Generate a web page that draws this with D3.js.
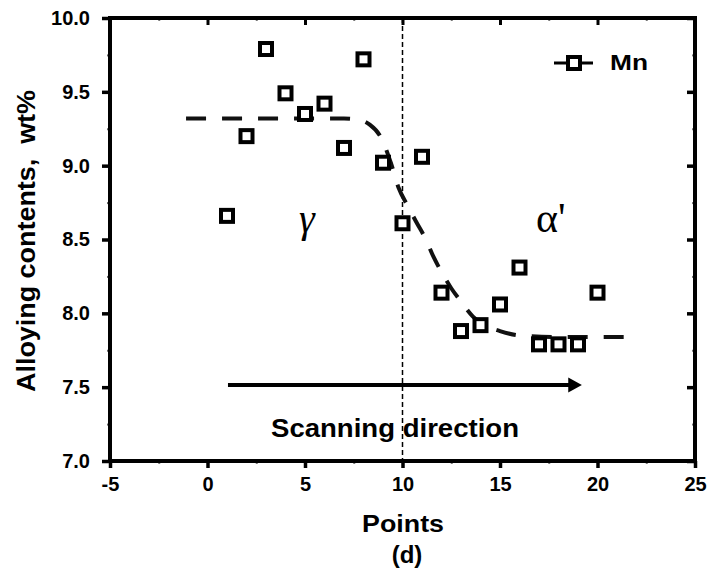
<!DOCTYPE html>
<html>
<head>
<meta charset="utf-8">
<script src="https://cdn.jsdelivr.net/npm/d3@7"></script>
<style>
  body { margin: 0; background: #fff; }
  svg { display: block; font-family: "Liberation Sans", Arial, sans-serif; }
</style>
</head>
<body>
<div id="chart"></div>
<script>
// measured points along the scan
const points = [1, 2, 3, 4, 5, 6, 7, 8, 9, 10, 11, 12, 13, 14, 15, 16, 17, 18, 19, 20];
const mn = [8.66, 9.20, 9.79, 9.49, 9.35, 9.42, 9.12, 9.72, 9.02, 8.61,
            9.06, 8.14, 7.88, 7.92, 8.06, 8.31, 7.79, 7.79, 7.79, 8.14];

// dashed guide curve
const fitX = [-1.1, 7.0, 7.8, 8.3, 8.9, 9.4, 9.8, 10.3, 10.7, 11.2, 11.6, 12.0, 12.5, 13.0, 13.6, 14.2, 15.0, 16.0, 18.0, 21.6];
const fitY = [9.32, 9.32, 9.31, 9.28, 9.19, 9.02, 8.85, 8.72, 8.62, 8.50, 8.38, 8.28, 8.17, 8.08, 7.98, 7.92, 7.88, 7.85, 7.84, 7.84];

const xTicks = [-5, 0, 5, 10, 15, 20, 25];
const yTicks = [7.0, 7.5, 8.0, 8.5, 9.0, 9.5, 10.0];

const width = 708, height = 571;
const margin = { top: 18, right: 13, bottom: 110, left: 110 };

const svg = d3.select("#chart").append("svg")
    .attr("width", width)
    .attr("height", height);

const x = d3.scaleLinear().domain([-5, 25]).range([margin.left, width - margin.right]);
const y = d3.scaleLinear().domain([7, 10]).range([height - margin.bottom, margin.top]);

const x0 = x.range()[0], x1 = x.range()[1];
const yB = y.range()[0], yT = y.range()[1];

// ticks: major + minor, on all four sides
const xMinor = d3.range(-5, 25.01, 2.5).filter(v => v % 5 !== 0);
const yMinor = d3.range(7, 10.01, 0.25).filter(v => Math.abs(v * 2 - Math.round(v * 2)) > 0.01);

svg.append("g")
    .attr("transform", `translate(0,${yB})`)
    .call(d3.axisBottom(x).tickValues(xTicks).tickSize(7).tickPadding(9).tickFormat(d => String(d)))
    .call(g => g.select(".domain").remove())
    .call(g => g.selectAll("line").attr("stroke-width", 3.5))
    .call(g => g.selectAll("text").attr("font-size", 20).attr("font-weight", "bold").attr("fill", "#000"));

svg.append("g")
    .attr("transform", `translate(0,${yB})`)
    .call(d3.axisBottom(x).tickValues(xMinor).tickSize(3).tickFormat(""))
    .call(g => g.select(".domain").remove())
    .call(g => g.selectAll("line").attr("stroke-width", 2).attr("stroke", "#777"));

svg.append("g")
    .attr("transform", `translate(0,${yT})`)
    .call(d3.axisBottom(x).tickValues(xTicks).tickSize(7).tickFormat(""))
    .call(g => g.select(".domain").remove())
    .call(g => g.selectAll("line").attr("stroke-width", 3));

svg.append("g")
    .attr("transform", `translate(0,${yT})`)
    .call(d3.axisBottom(x).tickValues(xMinor).tickSize(3).tickFormat(""))
    .call(g => g.select(".domain").remove())
    .call(g => g.selectAll("line").attr("stroke-width", 2).attr("stroke", "#777"));

svg.append("g")
    .attr("transform", `translate(${x0},0)`)
    .call(d3.axisLeft(y).tickValues(yTicks).tickSize(8).tickPadding(12).tickFormat(d => d.toFixed(1)))
    .call(g => g.select(".domain").remove())
    .call(g => g.selectAll("line").attr("stroke-width", 3.5))
    .call(g => g.selectAll("text").attr("font-size", 20).attr("font-weight", "bold").attr("fill", "#000"));

svg.append("g")
    .attr("transform", `translate(${x0},0)`)
    .call(d3.axisLeft(y).tickValues(yMinor).tickSize(3).tickFormat(""))
    .call(g => g.select(".domain").remove())
    .call(g => g.selectAll("line").attr("stroke-width", 2).attr("stroke", "#666"));

svg.append("g")
    .attr("transform", `translate(${x1},0)`)
    .call(d3.axisLeft(y).tickValues(yTicks).tickSize(8).tickFormat(""))
    .call(g => g.select(".domain").remove())
    .call(g => g.selectAll("line").attr("stroke-width", 3.5));

svg.append("g")
    .attr("transform", `translate(${x1},0)`)
    .call(d3.axisLeft(y).tickValues(yMinor).tickSize(3).tickFormat(""))
    .call(g => g.select(".domain").remove())
    .call(g => g.selectAll("line").attr("stroke-width", 2).attr("stroke", "#777"));

// frame
svg.append("rect")
    .attr("x", x0).attr("y", yT)
    .attr("width", x1 - x0).attr("height", yB - yT)
    .attr("fill", "none").attr("stroke", "#000").attr("stroke-width", 4);

// interface line at point 10
svg.append("line")
    .attr("x1", x(10)).attr("x2", x(10))
    .attr("y1", yT).attr("y2", yB)
    .attr("stroke", "#000").attr("stroke-width", 1.5)
    .attr("stroke-dasharray", "5,3");

// dashed guide curve
const fit = fitX.map((v, i) => [v, fitY[i]]);
svg.append("path")
    .datum(fit)
    .attr("d", d3.line().x(d => x(d[0])).y(d => y(d[1])).curve(d3.curveMonotoneX))
    .attr("fill", "none").attr("stroke", "#111").attr("stroke-width", 4)
    .attr("stroke-dasharray", "20,16");

// squares
svg.append("g").selectAll("rect")
    .data(points)
    .enter()
    .append("rect")
    .attr("x", (d, i) => x(d) - 6)
    .attr("y", (d, i) => y(mn[i]) - 6)
    .attr("width", 12).attr("height", 12)
    .attr("fill", "#fff").attr("stroke", "#000").attr("stroke-width", 4);

// scanning arrow
const ay = y(7.515);
svg.append("line")
    .attr("x1", x(1.05)).attr("x2", x(18.6))
    .attr("y1", ay).attr("y2", ay)
    .attr("stroke", "#000").attr("stroke-width", 4);
svg.append("path")
    .attr("d", `M${x(19.2)},${ay} L${x(18.5)},${ay - 7.5} L${x(18.5)},${ay + 7.5} Z`)
    .attr("fill", "#000");

svg.append("text")
    .attr("x", 395).attr("y", 437)
    .attr("text-anchor", "middle")
    .attr("font-size", 26).attr("font-weight", "bold")
    .attr("textLength", 248).attr("lengthAdjust", "spacingAndGlyphs")
    .text("Scanning direction");

// phase labels
svg.append("text")
    .attr("x", 307).attr("y", 232)
    .attr("text-anchor", "middle")
    .attr("font-family", "Liberation Serif, Times New Roman, serif")
    .attr("font-style", "italic")
    .attr("font-size", 40)
    .text("γ");

svg.append("text")
    .attr("x", 536).attr("y", 232)
    .attr("font-family", "Liberation Serif, Times New Roman, serif")
    .attr("font-size", 42)
    .text("α'");

// legend
svg.append("line")
    .attr("x1", 554).attr("x2", 593).attr("y1", 63).attr("y2", 63)
    .attr("stroke", "#000").attr("stroke-width", 3);
svg.append("rect")
    .attr("x", 568).attr("y", 57).attr("width", 12).attr("height", 12)
    .attr("fill", "#fff").attr("stroke", "#000").attr("stroke-width", 4);
svg.append("text")
    .attr("x", 610).attr("y", 70)
    .attr("font-size", 22).attr("font-weight", "bold")
    .attr("textLength", 38).attr("lengthAdjust", "spacingAndGlyphs")
    .text("Mn");

// axis titles
svg.append("text")
    .attr("x", 403).attr("y", 532)
    .attr("text-anchor", "middle")
    .attr("font-size", 24).attr("font-weight", "bold")
    .attr("textLength", 82).attr("lengthAdjust", "spacingAndGlyphs")
    .text("Points");

svg.append("text")
    .attr("x", 407).attr("y", 563)
    .attr("text-anchor", "middle")
    .attr("font-size", 24).attr("font-weight", "bold")
    .text("(d)");

svg.append("text")
    .attr("transform", `translate(35,241) rotate(-90)`)
    .attr("text-anchor", "middle")
    .attr("font-size", 25).attr("font-weight", "bold")
    .attr("textLength", 302).attr("lengthAdjust", "spacingAndGlyphs")
    .style("white-space", "pre")
    .text("Alloying contents,  wt%");
</script>
</body>
</html>
